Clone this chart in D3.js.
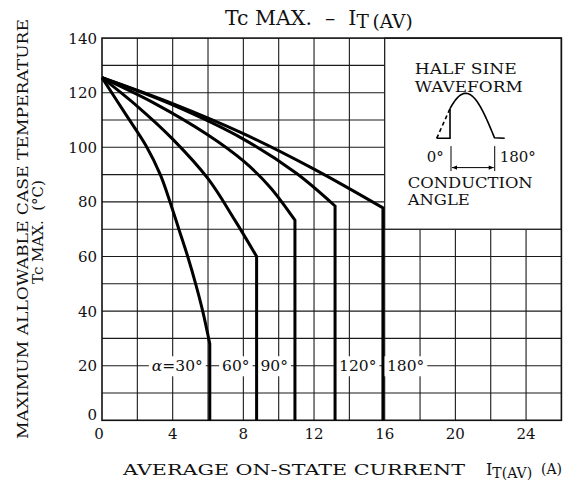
<!DOCTYPE html>
<html><head><meta charset="utf-8">
<script src="https://cdn.jsdelivr.net/npm/d3@7"></script>
<style>
body{margin:0;background:#fff}
text{font-family:"DejaVu Serif","Liberation Serif",serif;fill:#111;white-space:pre}
</style>
</head><body>
<svg id="c" width="563" height="488"></svg>
<script>
// ---- data ----
const xTicks = [0, 4, 8, 12, 16, 20, 24];
const yTicks = [0, 20, 40, 60, 80, 100, 120, 140];
const xGrid = [2,4,6,8,10,12,14,16,18,20,22,24];
const yGrid = [10,20,30,40,50,60,70,80,90,100,110,120,130];
const angles = ["30°", "60°", "90°", "120°", "180°"];
const labelTexts = ["=30°", "60°", "90°", "120°", "180°"];
const labelSide = ["left", "left", "left", "right", "right"];
const labelLevel = 20;
const curve30  = [[0,125.5],[1.3,112.5],[2.5,100.5],[3.3,90],[3.85,80],[4.35,70],[4.85,60],[5.3,50],[5.7,40],[6.1,28],[6.1,0]];
const curve60  = [[0,125.5],[2,115],[4,103],[6,88.5],[7.5,73.5],[8.75,60],[8.75,0]];
const curve90  = [[0,125.5],[3,116],[6,104.5],[8,95],[9.5,85.5],[10.92,73.3],[10.92,0]];
const curve120 = [[0,125.5],[4,115.5],[8,103],[11,90.5],[13.19,78.5],[13.19,0]];
const curve180 = [[0,125.5],[4,116],[8,105],[12,92],[15.9,77.8],[15.9,0]];
const curves = [curve30, curve60, curve90, curve120, curve180];
const insetX = [16, 26];
const insetY = [70, 140];

// ---- layout ----
const svg = d3.select("#c");
const x = d3.scaleLinear().domain([0, 26]).range([102, 561.4]);
const y = d3.scaleLinear().domain([0, 140]).range([420.3, 38.1]);

// grid
const g = svg.append("g");
g.selectAll(".vg").data(xGrid).join("line")
  .attr("x1", d => x(d)).attr("x2", d => x(d))
  .attr("y1", y(0)).attr("y2", y(140))
  .attr("stroke", "#1a1a1a").attr("stroke-width", 1.1);
g.selectAll(".hg").data(yGrid).join("line")
  .attr("x1", x(0)).attr("x2", x(26))
  .attr("y1", d => y(d)).attr("y2", d => y(d))
  .attr("stroke", "#1a1a1a").attr("stroke-width", 1.1);

// inset box (white)
svg.append("rect")
  .attr("x", x(insetX[0])).attr("y", y(insetY[1]))
  .attr("width", x(insetX[1]) - x(insetX[0]))
  .attr("height", y(insetY[0]) - y(insetY[1]))
  .attr("fill", "#fff").attr("stroke", "#1a1a1a").attr("stroke-width", 1.2);

// frame
svg.append("rect")
  .attr("x", x(0)).attr("y", y(140))
  .attr("width", x(26) - x(0)).attr("height", y(0) - y(140))
  .attr("fill", "none").attr("stroke", "#111").attr("stroke-width", 1.6);

// labels at 20 with white boxes (drawn before the curves)
const lab = svg.append("g");
labelTexts.forEach((t, i) => {
  const cx = curves[i][curves[i].length - 1][0];
  const left = labelSide[i] === "left";
  const tx = left ? x(cx) - 7 : x(cx) + 4;
  const te = lab.append("text")
    .attr("x", tx).attr("y", y(labelLevel)).attr("dy", "0.36em")
    .attr("text-anchor", left ? "end" : "start")
    .attr("font-size", 15.5);
  if (i === 0) te.append("tspan").attr("font-style", "italic").text("α");
  te.append("tspan").text(t);
  const bb = te.node().getBBox();
  lab.insert("rect", "text")
    .attr("x", bb.x - 3).attr("y", bb.y - 1)
    .attr("width", bb.width + 6).attr("height", bb.height + 2)
    .attr("fill", "#fff");
});
lab.selectAll("text").raise();

// curves
const line = d3.line().x(d => x(d[0])).y(d => y(d[1])).curve(d3.curveCatmullRom.alpha(0.5));
curves.forEach(c => {
  const bend = c.slice(0, c.length - 1);
  const last = c[c.length - 1];
  const p = line(bend) + "L" + x(last[0]) + "," + y(last[1]);
  svg.append("path").attr("d", p)
    .attr("fill", "none").attr("stroke", "#000")
    .attr("stroke-width", 3).attr("stroke-linejoin", "miter");
});

// tick labels
svg.selectAll(".xt").data(xTicks).join("text")
  .attr("x", d => x(d) - (d === 0 ? 3 : 0)).attr("y", 439)
  .attr("text-anchor", "middle").attr("font-size", 15).text(d => d);
svg.selectAll(".yt").data(yTicks).join("text")
  .attr("x", 97).attr("y", d => y(d) - (d === 0 ? 6 : 0)).attr("dy", "0.36em")
  .attr("text-anchor", "end").attr("font-size", 15).text(d => d);

// title
const title = svg.append("text").attr("x", 225).attr("y", 25).attr("font-size", 20.5);
title.append("tspan").text("Tc MAX.\u00a0\u00a0–\u00a0\u00a0I");
title.append("tspan").attr("dy", 3).attr("font-size", 18.5).text("T\u2009(AV)");

// y axis label
svg.append("text")
  .attr("transform", "translate(28,229) rotate(-90)")
  .attr("text-anchor", "middle").attr("font-size", 15.5)
  .attr("textLength", 420).attr("lengthAdjust", "spacingAndGlyphs")
  .text("MAXIMUM ALLOWABLE CASE TEMPERATURE");
svg.append("text")
  .attr("transform", "translate(43,232) rotate(-90)")
  .attr("text-anchor", "middle").attr("font-size", 15)
  .text("Tc MAX.\u00a0\u00a0(°C)");

// x axis label
svg.append("text").attr("x", 123).attr("y", 475).attr("font-size", 15)
  .attr("textLength", 342).attr("lengthAdjust", "spacingAndGlyphs")
  .text("AVERAGE ON-STATE CURRENT");
const xl = svg.append("text").attr("x", 486).attr("y", 475).attr("font-size", 16);
xl.append("tspan").text("I");
xl.append("tspan").attr("dy", 3).attr("font-size", 14).text("T(AV)");
svg.append("text").attr("x", 541).attr("y", 474).attr("font-size", 14).text("(A)");

// inset waveform glyph
const ox = x(insetX[0]), oy = y(insetY[1]);
const ins = svg.append("g").attr("transform", `translate(${ox},${oy})`);
ins.append("text").attr("x", 30).attr("y", 36).attr("font-size", 15)
  .attr("textLength", 102).attr("lengthAdjust", "spacingAndGlyphs").text("HALF SINE");
ins.append("text").attr("x", 30).attr("y", 54).attr("font-size", 15)
  .attr("textLength", 108).attr("lengthAdjust", "spacingAndGlyphs").text("WAVEFORM");
const w0 = 52, w1 = 110, base = 100.2, amp = 45, cut = 65.3;
const sx = d3.scaleLinear().domain([0, Math.PI]).range([w0, w1]);
const ph0 = (cut - w0) / (w1 - w0) * Math.PI;
const sinePts = d3.range(ph0, Math.PI + 0.001, Math.PI / 60).map(p => [sx(p), base - amp * Math.sin(p)]);
const sl = d3.line();
ins.append("path").attr("d", sl(sinePts) + `L${w1 + 10},${base}`)
  .attr("fill", "none").attr("stroke", "#000").attr("stroke-width", 1.6);
ins.append("path").attr("d", `M${w0},${base}L${cut},${base}L${cut},${sinePts[0][1]}`)
  .attr("fill", "none").attr("stroke", "#000").attr("stroke-width", 1.6);
ins.append("line").attr("x1", w0).attr("y1", base).attr("x2", cut).attr("y2", sinePts[0][1])
  .attr("stroke", "#000").attr("stroke-width", 1.6).attr("stroke-dasharray", "4,3");
ins.append("line").attr("x1", cut + 1).attr("x2", cut + 1).attr("y1", 108).attr("y2", 133)
  .attr("stroke", "#000").attr("stroke-width", 1);
ins.append("line").attr("x1", w1).attr("x2", w1).attr("y1", 108).attr("y2", 133)
  .attr("stroke", "#000").attr("stroke-width", 1);
ins.append("line").attr("x1", cut + 2).attr("x2", w1 - 1).attr("y1", 129.5).attr("y2", 129.5)
  .attr("stroke", "#000").attr("stroke-width", 1);
ins.append("path").attr("d", `M${cut+2},129.5l5,-2.2v4.4z M${w1-1},129.5l-5,-2.2v4.4z`).attr("fill", "#000");
ins.append("text").attr("x", 42).attr("y", 123.5).attr("font-size", 15).text("0°");
ins.append("text").attr("x", 115).attr("y", 123.5).attr("font-size", 15).text("180°");
ins.append("text").attr("x", 23).attr("y", 150).attr("font-size", 15)
  .attr("textLength", 125).attr("lengthAdjust", "spacingAndGlyphs").text("CONDUCTION");
ins.append("text").attr("x", 23).attr("y", 167).attr("font-size", 15)
  .attr("textLength", 62).attr("lengthAdjust", "spacingAndGlyphs").text("ANGLE");
</script>
</body></html>
